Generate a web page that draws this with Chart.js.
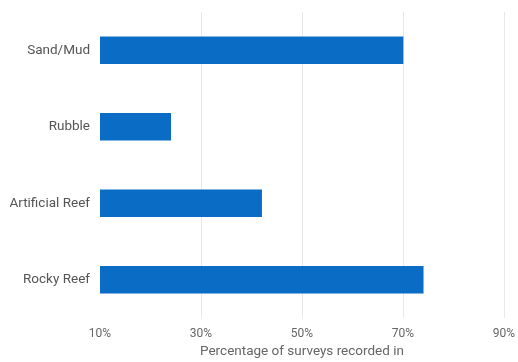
<!DOCTYPE html>
<html>
<head>
<meta charset="utf-8">
<script src="https://cdn.jsdelivr.net/npm/chart.js@4"></script>
<style>
  body { margin: 0; background: #fff; }
  #wrap { width: 518px; height: 362px; }
</style>
</head>
<body>
<div id="wrap"><canvas id="barChart"></canvas></div>
<script>
// Habitat types and share of surveys (%)
const habitats = ['Sand/Mud', 'Rubble', 'Artificial Reef', 'Rocky Reef'];
const percentages = [70, 24, 42, 74];
const tickValues = [10, 30, 50, 70, 90];

const ctx = document.getElementById('barChart').getContext('2d');
new Chart(ctx, {
    type: 'bar',
    data: {
        labels: habitats,
        datasets: [{
            data: percentages,
            backgroundColor: '#0b6cc5',
            barThickness: 27
        }]
    },
    options: {
        indexAxis: 'y',
        responsive: true,
        maintainAspectRatio: false,
        animation: false,
        layout: { padding: { top: 12, right: 14, left: 0, bottom: 0 } },
        plugins: {
            legend: { display: false },
            tooltip: { enabled: false }
        },
        scales: {
            x: {
                min: 10,
                max: 90,
                afterBuildTicks: axis => {
                    axis.ticks = tickValues.map(v => ({ value: v }));
                },
                afterFit: axis => {
                    axis.height = 44;
                    axis.paddingLeft = 0;
                    axis.paddingRight = 0;
                },
                border: { display: false },
                grid: {
                    drawTicks: false,
                    color: c => c.index === 0 ? 'rgba(0,0,0,0)' : '#e8e8e8'
                },
                ticks: {
                    padding: 9,
                    color: '#666',
                    font: { family: 'Roboto', size: 12 },
                    callback: v => v + '%'
                },
                title: {
                    display: true,
                    text: 'Percentage of surveys recorded in',
                    color: '#666',
                    font: { family: 'Roboto', size: 13.5 },
                    padding: { top: 0, bottom: 2 }
                }
            },
            y: {
                afterFit: axis => {
                    axis.width = 100;
                    axis.paddingTop = 0;
                    axis.paddingBottom = 0;
                },
                border: { display: false },
                grid: { display: false, drawTicks: false },
                ticks: {
                    padding: 10,
                    color: '#555',
                    font: { family: 'Roboto', size: 13.5 }
                }
            }
        }
    }
});
</script>
</body>
</html>
